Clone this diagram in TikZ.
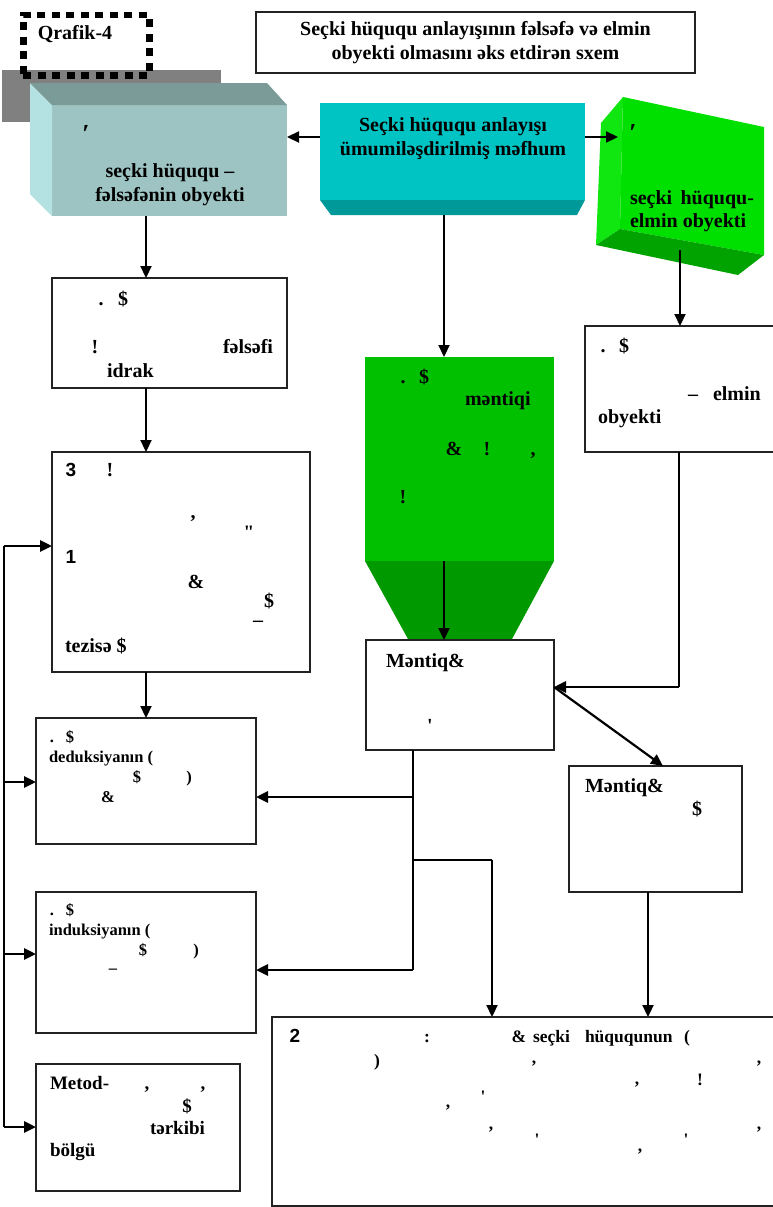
\documentclass[tikz,border=0pt]{standalone}
\usepackage{fontspec}
\setmainfont{Liberation Serif}
\newfontfamily\sansb{Liberation Sans}
\usetikzlibrary{arrows.meta,calc}
\definecolor{grayrect}{HTML}{808080}
\definecolor{lfront}{HTML}{9DC4C2}
\definecolor{ltop}{HTML}{7B9B99}
\definecolor{lside}{HTML}{B4E1E1}
\definecolor{cfront}{HTML}{00C4C4}
\definecolor{cbot}{HTML}{009999}
\definecolor{gfront}{HTML}{00E000}
\definecolor{gside}{HTML}{10E610}
\definecolor{gbotm}{HTML}{00A300}
\definecolor{ftop}{HTML}{00C000}
\definecolor{fbot}{HTML}{009A00}
\definecolor{edge}{HTML}{222222}
\newcommand\tn[4]{\node[tx,anchor=#1] (#2) at (#3) {#4};}
\newcommand\sn[4]{\node[smtx,anchor=#1] (#2) at (#3) {#4};}
\newcommand\mn[4]{\node[mtx,anchor=#1] (#2) at (#3) {#4};}
\newcommand\bn[4]{\node[btx,anchor=#1] (#2) at (#3) {#4};}
\begin{document}
\begin{tikzpicture}[x=1pt,y=-1pt,
  face/.style={inner sep=0,outer sep=0,anchor=north west,draw=none},
  box/.style={draw=edge,line width=1.4pt,fill=white,inner sep=0,outer sep=0,anchor=north west},
  tx/.style={font=\fontsize{20}{24}\selectfont\bfseries,inner sep=0,outer sep=0},
  mtx/.style={font=\fontsize{19}{23}\selectfont\bfseries,inner sep=0,outer sep=0},
  btx/.style={font=\fontsize{17.5}{22}\selectfont\bfseries,inner sep=0,outer sep=0},
  smtx/.style={font=\fontsize{16.5}{20}\selectfont\bfseries,inner sep=0,outer sep=0},
  primetx/.style={font=\fontsize{26}{26}\selectfont\bfseries,inner sep=0,outer sep=0},
  sanst/.style={font=\fontsize{19}{24}\selectfont\sansb\bfseries,inner sep=0,outer sep=0,anchor=base},
  arr/.style={-{Triangle[length=12pt,width=11pt]},line width=2.2pt,draw=black},
  thk/.style={-{Triangle[length=12pt,width=11pt]},line width=2.8pt,draw=black},
  ln/.style={line width=1.6pt,draw=black}]
\useasboundingbox (0,0) rectangle (773,1207);
\fill[white] (0,0) rectangle (773,1207);
% gray block and Qrafik label
\fill[grayrect] (2,70) rectangle (221,122);
\node[draw=black,line width=6.5pt,dash pattern=on 8pt off 6.5pt,minimum width=126pt,minimum height=60pt,inner sep=0,anchor=north west] (qr) at (20,12) {};
\node[tx] (qrt) at (75,34) {Qrafik-4};
% title
\node[box,line width=1.2pt,minimum width=439pt,minimum height=61pt] (ttl) at (256,12) {};
\node[tx,align=center] (ttlt) at (ttl.center) {Seçki hüququ anlayışının fəlsəfə və elmin\\obyekti olmasını əks etdirən sxem};
% left 3D box
\node[face,fill=lfront,minimum width=235pt,minimum height=111pt] (lb) at (52,105) {};
\fill[lside] (30,83) -- (lb.north west) -- (lb.south west) -- (30,194) -- cycle;
\fill[ltop] (30,83) -- (267,83) -- (lb.north east) -- (lb.north west) -- cycle;
\node[primetx] (lbp) at (86,134) {′};
\node[tx,align=center] (lbt) at (170,185) {seçki hüququ --\\fəlsəfənin obyekti};
% center cyan box
\node[face,fill=cfront,minimum width=265pt,minimum height=97pt] (cb) at (320,103) {};
\fill[cbot] (cb.south west) -- (cb.south east) -- (577,215) -- (331,215) -- cycle;
\coordinate (cbB) at (444,215);
\node[tx,align=center] (cbt) at (453,139) {Seçki hüququ anlayışı\\ümumiləşdirilmiş məfhum};
% right green box
\fill[gside] (623,97) -- (601,123) -- (596,245) -- (620,229) -- cycle;
\fill[gfront] (623,97) -- (764,127) -- (764,255) -- (620,229) -- cycle;
\fill[gbotm] (596,245) -- (620,229) -- (764,255) -- (738,275) -- cycle;
\coordinate (gbL) at (618,137);
\coordinate (gbB) at (680,250);
\node[primetx] (gbp) at (633,133) {′};
\tn{base west}{gb1}{630,204}{seçki}
\tn{base east}{gb2}{754,204}{hüququ-}
\tn{base west}{gb3}{630,227}{elmin obyekti}
% green funnel
\node[face,fill=ftop,minimum width=189pt,minimum height=204pt] (gf) at (365,357) {};
\fill[fbot] (gf.south west) -- (gf.south east) -- (512,639) -- (408,639) -- cycle;
\tn{base}{gf1}{403,383}{.}
\tn{base}{gf2}{424,383}{\$}
\tn{base west}{gf3}{465,405}{məntiqi}
\tn{base}{gf4}{454,455}{\&}
\tn{base}{gf5}{487,455}{!}
\tn{base}{gf6}{533,455}{,}
\tn{base}{gf7}{403,503}{!}
% white boxes
\node[box,minimum width=235pt,minimum height=110pt] (fb) at (52,278) {};
\node[box,minimum width=258pt,minimum height=220pt] (b3) at (52,452) {};
\node[box,minimum width=220pt,minimum height=126pt] (db) at (36,718) {};
\node[box,minimum width=220pt,minimum height=141pt] (ib) at (36,892) {};
\node[box,minimum width=204pt,minimum height=127pt] (mb) at (36,1064) {};
\node[box,minimum width=188pt,minimum height=110pt] (m1) at (366,640) {};
\node[box,minimum width=200pt,minimum height=126pt] (eb) at (585,326) {};
\node[box,minimum width=173pt,minimum height=126pt] (m2) at (569,766) {};
\node[box,minimum width=510pt,minimum height=189pt] (bb) at (272,1017) {};
% felsefi box text
\tn{base}{f1}{101,305}{.}
\tn{base}{f2}{123,305}{\$}
\tn{base}{f3}{95,353}{!}
\tn{base west}{f4}{223,353}{fəlsəfi}
\tn{base west}{f5}{107,377}{idrak}
% box 3 text
\node[sanst] (c1) at (71,476) {3};
\tn{base}{c2}{110,476}{!}
\tn{center}{c3}{193,519}{,}
\node[tx,font=\fontsize{19}{20}\selectfont\bfseries] (c4) at (249,532) {\textquotedbl};
\node[sanst] (c5) at (71,563) {1};
\tn{base}{c6}{196,588}{\&}
\tn{base}{c7}{269,607}{\$}
\tn{center}{c8}{258,624}{–}
\tn{base west}{c9}{65,652}{tezisə \$}
% deduction box text
\sn{base}{d1}{52,742}{.}
\sn{base}{d2}{70,742}{\$}
\sn{base west}{d3}{49,762}{deduksiyanın (}
\sn{base}{d4}{137,782}{\$}
\sn{base}{d5}{189,782}{)}
\sn{base}{d6}{108,802}{\&}
% induction box text
\sn{base}{i1}{52,915}{.}
\sn{base}{i2}{70,915}{\$}
\sn{base west}{i3}{49,935}{induksiyanın (}
\sn{base}{i4}{143,955}{\$}
\sn{base}{i5}{196,955}{)}
\sn{center}{i6}{113,971}{–}
% metod box text
\mn{base west}{k1}{50,1089}{Metod-}
\mn{base}{k2}{147,1089}{,}
\mn{base}{k3}{203,1089}{,}
\mn{base}{k4}{187,1112}{\$}
\mn{base west}{k5}{150,1134}{tərkibi}
\mn{base west}{k6}{50,1156}{bölgü}
% elmin box text
\tn{base}{e1}{603,352}{.}
\tn{base}{e2}{624,352}{\$}
\tn{base}{e3}{693,400}{–}
\tn{base west}{e4}{713,400}{elmin}
\tn{base west}{e5}{598,423}{obyekti}
% mantiq boxes text
\tn{base west}{n1}{386,667}{Məntiq\&}
\tn{center}{n2}{430,726}{\textquotesingle}
\tn{base west}{n3}{585,792}{Məntiq\&}
\tn{base}{n4}{697,815}{\$}
% bottom box text
\node[sanst] (r1) at (295,1042) {2};
\bn{base}{r2}{427,1042}{:}
\bn{base}{r3}{519,1042}{\&}
\bn{base west}{r4}{533,1042}{seçki}
\bn{base west}{r5}{585,1042}{hüququnun}
\bn{base}{r6}{687,1042}{(}
\bn{base}{r7}{377,1066}{)}
\bn{center}{r8}{534,1064}{,}
\bn{center}{r9}{759,1064}{,}
\bn{center}{r10}{700,1080}{!}
\bn{center}{r11}{637,1085}{,}
\bn{center}{r12}{483,1097}{\textquotesingle}
\bn{center}{r13}{448,1108}{,}
\bn{center}{r14}{491,1130}{,}
\bn{center}{r15}{759,1130}{,}
\bn{center}{r16}{537,1140}{\textquotesingle}
\bn{center}{r17}{686,1140}{\textquotesingle}
\bn{center}{r18}{640,1152}{,}
% connectors
\draw[arr] (cb.west |- 0,137) -- (lb.east |- 0,137);
\draw[arr] (cb.east |- 0,137) -- (gbL);
\draw[arr] (146,0 |- lb.south) -- (146,0 |- fb.north);
\draw[arr] (146,0 |- fb.south) -- (146,0 |- b3.north);
\draw[arr] (146,0 |- b3.south) -- (146,0 |- db.north);
\draw[arr] (cbB) -- (444,0 |- gf.north);
\draw[arr] (444,0 |- gf.south) -- (444,0 |- m1.north);
\draw[arr] (gbB) -- (680,0 |- eb.north);
\draw[ln] (679,0 |- eb.south) -- (679,687);
\draw[thk] (679,687) -- (m1.east |- 0,687);
\draw[arr] (m1.east |- 0,687) -- (663,0 |- m2.north);
\draw[arr] (648,0 |- m2.south) -- (648,0 |- bb.north);
\draw[ln] (413,0 |- m1.south) -- (413,970);
\draw[thk] (413,797) -- (db.east |- 0,797);
\draw[thk] (413,970) -- (ib.east |- 0,970);
\draw[ln] (413,860) -- (492,860);
\draw[arr] (492,860) -- (492,0 |- bb.north);
\draw[line width=2.2pt] (4,546) -- (4,1127);
\draw[thk] (4,546) -- (b3.west |- 0,546);
\draw[thk] (4,782) -- (db.west |- 0,782);
\draw[thk] (4,954) -- (ib.west |- 0,954);
\draw[thk] (4,1127) -- (mb.west |- 0,1127);
\end{tikzpicture}
\end{document}
